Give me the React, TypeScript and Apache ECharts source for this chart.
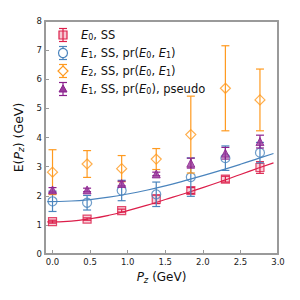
import React, { useEffect, useRef } from "react";
import * as echarts from "echarts";

const pz = [0, 0.46, 0.92, 1.38, 1.84, 2.3, 2.76];
const e0 = [1.11, 1.2, 1.49, 1.88, 2.18, 2.57, 2.97];
const e0Err = [0.05, 0.04, 0.05, 0.15, 0.1, 0.1, 0.2];
const e1 = [1.81, 1.76, 2.18, 2.05, 2.64, 3.29, 3.48];
const e1Err = [0.35, 0.25, 0.35, 0.42, 0.66, 0.42, 0.35];
const e2 = [2.81, 3.09, 2.93, 3.26, 4.1, 5.69, 5.29];
const e2Err = [0.77, 0.46, 0.45, 0.36, 1.32, 1.46, 1.06];
const e1p = [2.2, 2.2, 2.42, 2.75, 3.12, 3.46, 3.86];
const e1pErr = [0.08, 0.06, 0.08, 0.06, 0.17, 0.2, 0.22];

const fitX = [-0.07, 0.25, 0.5, 0.75, 1.0, 1.25, 1.5, 1.75, 2.0, 2.25, 2.5, 2.75, 2.94];
const fitE0 = [1.1, 1.13, 1.21, 1.33, 1.49, 1.67, 1.87, 2.07, 2.28, 2.5, 2.73, 2.96, 3.13];
const fitE1 = [1.8, 1.82, 1.87, 1.95, 2.06, 2.19, 2.34, 2.51, 2.69, 2.88, 3.08, 3.29, 3.45];

const xTicks = [0, 0.5, 1.0, 1.5, 2.0, 2.5, 3.0];

const RED = "#dc1e4a";
const BLUE = "#4a84bd";
const ORANGE = "#ff9a1f";
const PURPLE = "#8a1f8c";

const legendLabels = [
  "{i|E}{s|0}, SS",
  "{i|E}{s|1}, SS, pr({i|E}{s|0}, {i|E}{s|1})",
  "{i|E}{s|2}, SS, pr({i|E}{s|0}, {i|E}{s|1})",
  "{i|E}{s|1}, SS, pr({i|E}{s|0}), pseudo",
];

const FONT = "DejaVu Sans";

function errSeries(xs: number[], ys: number[], es: number[], color: string, z: number) {
  return {
    type: "custom",
    z,
    data: xs.map((x, i) => [x, ys[i], es[i]]),
    renderItem: (params: any, api: any) => {
      const x = api.value(0);
      const y = api.value(1);
      const e = api.value(2);
      const t = api.coord([x, y + e]);
      const b = api.coord([x, y - e]);
      const cw = 4;
      const st = { stroke: color, lineWidth: 1.2 };
      return {
        type: "group",
        children: [
          { type: "line", shape: { x1: t[0], y1: t[1], x2: b[0], y2: b[1] }, style: st },
          { type: "line", shape: { x1: t[0] - cw, y1: t[1], x2: t[0] + cw, y2: t[1] }, style: st },
          { type: "line", shape: { x1: b[0] - cw, y1: b[1], x2: b[0] + cw, y2: b[1] }, style: st },
        ],
      };
    },
  };
}

function legendItem(i: number, y: number, color: string, marker: any) {
  const x = 63;
  const st = { stroke: color, lineWidth: 1.2 };
  return {
    type: "group",
    children: [
      { type: "line", shape: { x1: x, y1: y - 6.5, x2: x, y2: y + 6.5 }, style: st },
      { type: "line", shape: { x1: x - 4, y1: y - 6.5, x2: x + 4, y2: y - 6.5 }, style: st },
      { type: "line", shape: { x1: x - 4, y1: y + 6.5, x2: x + 4, y2: y + 6.5 }, style: st },
      marker,
      {
        type: "text",
        x: 81,
        y,
        style: {
          text: legendLabels[i],
          fontFamily: FONT,
          fontSize: 11.5,
          fill: "#111",
          verticalAlign: "middle",
          rich: {
            i: { fontStyle: "italic", fontSize: 11.5, fontFamily: FONT, fill: "#111" },
            s: { fontSize: 8, fontFamily: FONT, fill: "#111", padding: [5, 0, 0, 0] },
          },
        },
      },
    ],
  };
}

export default function App() {
  const ref = useRef<HTMLDivElement>(null);
  useEffect(() => {
    if (!ref.current) return;
    const chart = echarts.init(ref.current, undefined, { renderer: "svg" });
    const axisLineStyle = { color: "#9a9a9a", width: 2 };
    const option: any = {
      animation: false,
      backgroundColor: "#fff",
      grid: { left: 45, right: 22, top: 21, bottom: 46 },
      xAxis: [
        {
          type: "value",
          min: -0.1,
          max: 3.0,
          position: "bottom",
          axisLine: { show: true, onZero: false, lineStyle: axisLineStyle },
          axisTick: { show: true, inside: true, length: 4, customValues: xTicks, lineStyle: { color: "#9a9a9a", width: 1 } },
          axisLabel: {
            customValues: xTicks,
            formatter: (v: number) => v.toFixed(1),
            fontFamily: FONT,
            fontSize: 8.5,
            color: "#222",
            margin: 3,
          },
          splitLine: { show: false },
          name: "{i|P}{s|z} (GeV)",
          nameLocation: "middle",
          nameGap: 13,
          nameTextStyle: {
            fontFamily: FONT,
            fontSize: 12,
            color: "#111",
            verticalAlign: "top",
            rich: {
              i: { fontStyle: "italic", fontSize: 12, fontFamily: FONT, color: "#111" },
              s: { fontStyle: "italic", fontSize: 8.5, fontFamily: FONT, color: "#111", padding: [6, 0, 0, 0] },
            },
          },
        },
        {
          type: "value",
          min: -0.1,
          max: 3.0,
          position: "top",
          axisLine: { show: true, onZero: false, lineStyle: axisLineStyle },
          axisTick: { show: false },
          axisLabel: { show: false },
          splitLine: { show: false },
        },
      ],
      yAxis: [
        {
          type: "value",
          min: 0,
          max: 8,
          interval: 1,
          position: "left",
          axisLine: { show: true, onZero: false, lineStyle: axisLineStyle },
          axisTick: { show: true, inside: true, length: 4, lineStyle: { color: "#9a9a9a", width: 1 } },
          axisLabel: { fontFamily: FONT, fontSize: 8.5, color: "#222", margin: 3 },
          splitLine: { show: false },
          name: "E({i|P}{s|z}) (GeV)",
          nameLocation: "middle",
          nameGap: 9,
          nameTextStyle: {
            fontFamily: FONT,
            fontSize: 12.5,
            color: "#111",
            rich: {
              i: { fontStyle: "italic", fontSize: 12.5, fontFamily: FONT, color: "#111" },
              s: { fontStyle: "italic", fontSize: 9, fontFamily: FONT, color: "#111", padding: [6, 0, 0, 0] },
            },
          },
        },
        {
          type: "value",
          min: 0,
          max: 8,
          position: "right",
          axisLine: { show: true, onZero: false, lineStyle: axisLineStyle },
          axisTick: { show: false },
          axisLabel: { show: false },
          splitLine: { show: false },
        },
      ],
      series: [
        {
          type: "line",
          data: fitX.map((x, i) => [x, fitE0[i]]),
          smooth: true,
          showSymbol: false,
          lineStyle: { color: RED, width: 1.2 },
          z: 1,
        },
        {
          type: "line",
          data: fitX.map((x, i) => [x, fitE1[i]]),
          smooth: true,
          showSymbol: false,
          lineStyle: { color: BLUE, width: 1.2 },
          z: 1,
        },
        errSeries(pz, e0, e0Err, RED, 2),
        {
          type: "scatter",
          data: pz.map((x, i) => [x, e0[i]]),
          symbol: "rect",
          symbolSize: 8,
          itemStyle: { color: "rgba(220,30,74,0.25)", borderColor: RED, borderWidth: 1.2 },
          z: 3,
        },
        errSeries(pz, e1, e1Err, BLUE, 4),
        {
          type: "scatter",
          data: pz.map((x, i) => [x, e1[i]]),
          symbol: "circle",
          symbolSize: 9,
          itemStyle: { color: "rgba(255,255,255,0)", borderColor: BLUE, borderWidth: 1.2 },
          z: 5,
        },
        errSeries(pz, e2, e2Err, ORANGE, 6),
        {
          type: "scatter",
          data: pz.map((x, i) => [x, e2[i]]),
          symbol: "diamond",
          symbolSize: 10,
          itemStyle: { color: "rgba(255,255,255,0)", borderColor: ORANGE, borderWidth: 1.2 },
          z: 7,
        },
        errSeries(pz, e1p, e1pErr, PURPLE, 8),
        {
          type: "scatter",
          data: pz.map((x, i) => [x, e1p[i]]),
          symbol: "triangle",
          symbolSize: 8,
          itemStyle: { color: "#9a3a9c", borderColor: PURPLE, borderWidth: 1 },
          z: 9,
        },
      ],
      graphic: [
        legendItem(0, 35, RED, {
          type: "rect",
          shape: { x: 59, y: 31, width: 8, height: 8 },
          style: { fill: "rgba(220,30,74,0.25)", stroke: RED, lineWidth: 1.2 },
        }),
        legendItem(1, 53, BLUE, {
          type: "circle",
          shape: { cx: 63, cy: 53, r: 4.5 },
          style: { fill: "#fff", stroke: BLUE, lineWidth: 1.2 },
        }),
        legendItem(2, 71, ORANGE, {
          type: "polygon",
          shape: { points: [[63, 66], [68, 71], [63, 76], [58, 71]] },
          style: { fill: "#fff", stroke: ORANGE, lineWidth: 1.2 },
        }),
        legendItem(3, 89, PURPLE, {
          type: "polygon",
          shape: { points: [[63, 85], [67, 92], [59, 92]] },
          style: { fill: "#9a3a9c", stroke: PURPLE, lineWidth: 1 },
        }),
      ],
    };
    chart.setOption(option);
    return () => chart.dispose();
  }, []);
  return <div ref={ref} style={{ width: 300, height: 300, position: "absolute", left: 0, top: 0 }} />;
}
